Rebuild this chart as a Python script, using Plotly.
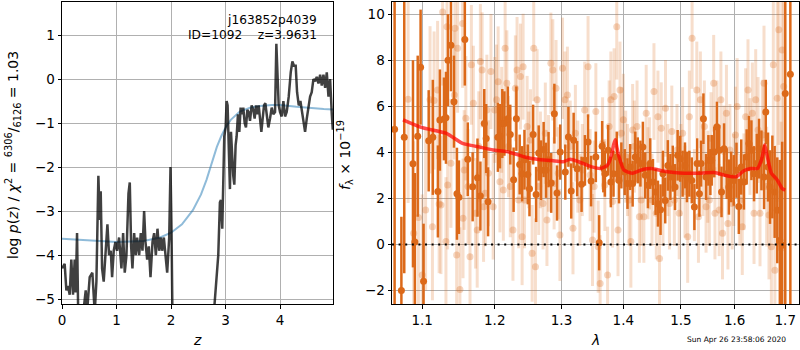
import plotly.graph_objects as go

# ---------------- left panel: log p(z) ----------------
z_pz = [0.000, 0.049, 0.080, 0.110, 0.141, 0.171, 0.202, 0.233, 0.251, 0.276,
        0.300, 0.374, 0.435, 0.459, 0.508, 0.557, 0.600, 0.631, 0.667, 0.692,
        0.710, 0.735, 0.765, 0.802, 0.833, 0.863, 0.894, 0.919, 0.949, 0.980,
        1.010, 1.047, 1.090, 1.121, 1.151, 1.182, 1.219, 1.243, 1.268, 1.292,
        1.323, 1.353, 1.378, 1.415, 1.445, 1.476, 1.506, 1.531, 1.562, 1.592,
        1.623, 1.660, 1.690, 1.721, 1.751, 1.782, 1.813, 1.837, 1.868, 1.898,
        1.929, 1.966, 1.990, 2.009, 2.027, 2.100, 2.529, 2.743, 2.805, 2.835,
        2.866, 2.896, 2.915, 2.939, 2.958, 2.976, 3.001, 3.019, 3.037, 3.056,
        3.080, 3.099, 3.123, 3.141, 3.160, 3.184, 3.203, 3.227, 3.252, 3.276,
        3.301, 3.325, 3.350, 3.374, 3.399, 3.423, 3.448, 3.478, 3.509, 3.533,
        3.558, 3.582, 3.607, 3.631, 3.656, 3.680, 3.705, 3.729, 3.754, 3.784,
        3.815, 3.846, 3.876, 3.907, 3.931, 3.950, 3.974, 3.999, 4.029, 4.060,
        4.091, 4.121, 4.158, 4.195, 4.225, 4.256, 4.286, 4.311, 4.342, 4.372,
        4.403, 4.427, 4.458, 4.489, 4.519, 4.550, 4.580, 4.611, 4.642, 4.672,
        4.703, 4.734, 4.764, 4.795, 4.826, 4.856, 4.887, 4.917, 4.948, 4.966]
logp = [-4.3, -4.2, -4.8, -4.7, -4.9, -4.1, -4.9, -4.1, -4.85, -3.5,
        -5.6, -5.5, -4.8, -5.3, -4.5, -4.4, -5.3, -4.6, -2.2, -3.2,
        -2.55, -4.3, -4.6, -3.8, -3.3, -4.0, -3.9, -4.5, -3.9, -3.7,
        -3.9, -3.6, -4.3, -3.5, -4.4, -4.0, -2.6, -2.35, -3.8, -4.3,
        -3.5, -4.0, -3.6, -4.0, -3.5, -3.9, -3.0, -3.7, -4.1, -3.8,
        -4.5, -3.7, -3.5, -4.0, -3.4, -3.9, -3.6, -3.9, -3.6, -4.0,
        -4.4, -3.6, -2.0, -3.5, -5.6, -8.0, -8.0, -6.0, -5.0, -4.4,
        -4.0, -2.8, -2.75, -3.4, -2.0, -1.3, -1.1, -0.5, -0.6, -1.8,
        -2.5, -1.2, -2.0, -2.2, -2.4, -1.5, -1.3, -0.8, -1.2, -0.65,
        -0.8, -0.65, -1.0, -1.1, -0.7, -0.75, -0.95, -0.6, -0.7, -0.9,
        -0.6, -0.8, -0.6, -1.0, -1.2, -0.9, -0.6, -0.55, -0.75, -1.1,
        -0.9, -0.65, -0.8, -0.75, 0.8, 0.0, -0.6, -0.75, -0.85, -0.5,
        -0.85, -0.75, -0.4, 0.15, 0.4, 0.3, 0.3, -0.3, -0.6, -0.5,
        -0.8, -1.0, -1.2, -0.9, -0.6, -0.4, -0.3, 0.0, -0.05, 0.05,
        -0.1, 0.1, -0.15, 0.1, -0.2, 0.15, -0.4, 0.0, -0.8, -1.15]

z_prior = [0.0, 0.5, 1.0, 1.5, 1.8, 2.0, 2.2, 2.4, 2.55, 2.65, 2.75, 2.84,
           2.92, 3.0, 3.1, 3.26, 3.45, 3.63, 3.85, 4.0, 4.3, 4.55, 4.8, 4.97]
logp_prior = [-3.63, -3.67, -3.70, -3.68, -3.60, -3.49, -3.30, -2.98, -2.62,
              -2.29, -1.90, -1.54, -1.30, -1.10, -0.92, -0.74, -0.65, -0.61,
              -0.59, -0.59, -0.63, -0.66, -0.68, -0.69]

# ---------------- right panel: spectrum ----------------
dark_lam = [1.0642, 1.0729, 1.0766, 1.0879, 1.0904, 1.0941, 1.0979, 1.1018, 1.1086, 1.1141,
            1.1209, 1.1236, 1.1291, 1.1318, 1.1345, 1.1386, 1.1427, 1.1468, 1.1495, 1.1577,
            1.1618, 1.1686, 1.1754, 1.1795, 1.1850, 1.1877, 1.1904, 1.2045, 1.2075, 1.2109,
            1.2139, 1.2190, 1.2225, 1.2274, 1.2315, 1.2364, 1.2400, 1.2435, 1.2484, 1.2510,
            1.2565, 1.2610, 1.2649, 1.2685, 1.2724, 1.2760, 1.2799, 1.2840, 1.2889, 1.2930,
            1.2979, 1.3059, 1.3108, 1.3152, 1.3190, 1.3246, 1.3316, 1.3370, 1.3420, 1.3469,
            1.3546, 1.3600, 1.3649, 1.3668, 1.3693, 1.3748, 1.3792, 1.3836, 1.3890, 1.3928,
            1.3967, 1.4023, 1.4070, 1.4115, 1.4157, 1.4202, 1.4244, 1.4290, 1.4332, 1.4372,
            1.4419, 1.4459, 1.4506, 1.4552, 1.4593, 1.4639, 1.4681, 1.4721, 1.4768, 1.4813,
            1.4855, 1.4895, 1.4942, 1.4988, 1.5031, 1.5074, 1.5110, 1.5153, 1.5197, 1.5245,
            1.5295, 1.5337, 1.5368, 1.5411, 1.5460, 1.5503, 1.5540, 1.5565, 1.5613, 1.5663,
            1.5705, 1.5749, 1.5797, 1.5847, 1.5889, 1.5933, 1.5982, 1.6034, 1.6079, 1.6126,
            1.6178, 1.6231, 1.6276, 1.6324, 1.6375, 1.6429, 1.6474, 1.6521, 1.6573, 1.6607,
            1.6652, 1.6692, 1.6739, 1.6785, 1.6838, 1.6890, 1.6937, 1.7000, 1.7104]
dark_flux = [5.0, -2.0, 4.65, 3.5, 0.1, 4.7, 7.7, -1.6, 4.5, 4.65,
             2.3, 5.4, 5.45, 5.5, 8.0, 8.65, 6.2, 2.2, 2.05, 8.9,
             3.7, 2.5, 2.9, 2.1, 5.25, 4.6, 1.85, 4.65, 4.70, 5.25,
             5.25, 5.46, 4.77, 2.81, 5.46, 3.47, 3.07, 3.68, 3.04, 2.42,
             4.77, 2.17, 3.97, 3.22, 4.12, 3.22, 3.68, 2.67, 5.68, 2.23,
             4.01, 3.14, 4.67, 2.32, 4.52, 3.29, 2.61, 3.65, 4.45, 2.75,
             3.80, 0.07, 4.26, 3.36, 3.07, 4.09, 2.71, 3.07, 3.80, 2.78,
             3.43, 3.14, 2.64, 3.36, 2.64, 3.80, 3.65, 3.51, 4.23, 3.00,
             2.57, 3.51, 2.71, 2.28, 1.77, 1.51, 3.07, 1.91, 3.43, 2.93,
             3.29, 2.49, 3.87, 3.72, 3.07, 3.43, 2.93, 3.07, 2.78, 1.62,
             3.51, 2.20, 3.51, 5.46, 2.93, 3.65, 3.14, 3.65, 4.01, 5.10,
             4.09, 2.28, 4.16, 3.07, 2.49, 2.93, 2.78, 3.22, 1.65, 3.36,
             2.71, 3.80, 4.38, 4.09, 3.07, 3.51, 4.16, 3.65, 2.93, 5.75,
             3.36, 2.49, 2.93, 2.28, 1.48, 0.17, -0.04, 6.55, 7.39]
dark_err = [30, 3.2, 5.9, 4.5, 3.0, 3.5, 2.5, 2.5, 2.2, 2.5,
            2.0, 2.2, 1.8, 2.0, 2.0, 2.0, 2.0, 2.0, 1.6, 2.0,
            1.6, 1.5, 1.7, 1.5, 1.5, 1.5, 1.5, 1.5, 1.4, 1.5,
            1.4, 1.4, 1.3, 1.4, 1.4, 1.3, 1.2, 1.3, 1.3, 1.2,
            1.3, 1.2, 1.2, 1.3, 1.2, 1.2, 1.2, 1.3, 1.3, 1.2,
            1.2, 1.2, 1.3, 1.2, 1.2, 1.2, 1.2, 1.1, 1.2, 1.1,
            1.1, 1.2, 1.1, 1.1, 1.0, 1.1, 1.1, 1.0, 1.1, 1.0,
            1.0, 1.0, 1.1, 1.0, 1.0, 1.1, 1.0, 1.0, 1.1, 1.0,
            1.0, 1.1, 1.0, 1.0, 1.0, 1.1, 1.0, 1.0, 1.1, 1.0,
            1.0, 1.0, 1.1, 1.0, 1.0, 1.0, 1.1, 1.0, 1.0, 1.0,
            1.1, 1.0, 1.0, 1.1, 1.0, 1.1, 1.0, 1.1, 1.1, 1.1,
            1.1, 1.1, 1.1, 1.1, 1.2, 1.1, 1.1, 1.2, 1.2, 1.2,
            1.2, 1.2, 1.2, 1.3, 1.2, 1.3, 1.3, 1.3, 1.4, 1.4,
            1.5, 1.6, 1.8, 2.0, 2.3, 3.5, 4.5, 30, 30]

light_lam = [1.0816, 1.0888, 1.0950, 1.1000, 1.1045, 1.1104, 1.1136, 1.1158, 1.1205, 1.1226,
             1.1250, 1.1273, 1.1318, 1.1332, 1.1341, 1.1386, 1.1431, 1.1441, 1.1464, 1.1477,
             1.1509, 1.1546, 1.1552, 1.1568, 1.1591, 1.1622, 1.1649, 1.1668, 1.1696, 1.1727,
             1.1750, 1.1772, 1.1795, 1.1819, 1.1840, 1.1864, 1.1887, 1.1909, 1.1945, 1.1977,
             1.2000, 1.2025, 1.2049, 1.2075, 1.2100, 1.2124, 1.2150, 1.2175, 1.2199, 1.2225,
             1.2265, 1.2300, 1.2325, 1.2349, 1.2375, 1.2400, 1.2415, 1.2435, 1.2475, 1.2499,
             1.2525, 1.2550, 1.2574, 1.2600, 1.2625, 1.2649, 1.2675, 1.2715, 1.2750, 1.2775,
             1.2799, 1.2835, 1.2865, 1.2885, 1.2915, 1.2949, 1.2975, 1.3016, 1.3054, 1.3092,
             1.3136, 1.3180, 1.3218, 1.3256, 1.3289, 1.3328, 1.3366, 1.3420, 1.3453, 1.3492,
             1.3518, 1.3546, 1.3584, 1.3616, 1.3656, 1.3693, 1.3738, 1.3764, 1.3792, 1.3820,
             1.3846, 1.3890, 1.3911, 1.3944, 1.3967, 1.4000, 1.4040, 1.4070, 1.4098, 1.4127,
             1.4157, 1.4185, 1.4232, 1.4272, 1.4302, 1.4349, 1.4389, 1.4419, 1.4447, 1.4489,
             1.4524, 1.4564, 1.4593, 1.4621, 1.4651, 1.4681, 1.4726, 1.4768, 1.4796, 1.4838,
             1.4883, 1.4930, 1.4970, 1.5000, 1.5031, 1.5074, 1.5123, 1.5153, 1.5203, 1.5245,
             1.5289, 1.5319, 1.5355, 1.5400, 1.5429, 1.5460, 1.5492, 1.5521, 1.5552, 1.5602,
             1.5626, 1.5663, 1.5705, 1.5737, 1.5768, 1.5797, 1.5842, 1.5871, 1.5908, 1.5952,
             1.5982, 1.6014, 1.6047, 1.6099, 1.6146, 1.6178, 1.6211, 1.6257, 1.6296, 1.6343,
             1.6375, 1.6408, 1.6454, 1.6493, 1.6540, 1.6572, 1.6626, 1.6671, 1.6719, 1.6758,
             1.6790, 1.6837, 1.6869, 1.6916, 1.6936, 1.6968]
light_flux = [6.3, 0.48, 1.17, -1.33, 1.49, 6.28, 0.77, 6.25, 6.71, 1.75,
              1.71, 10.1, 0.12, 9.46, 2.58, 3.52, 6.49, 9.39, -0.46, 8.52,
              -1.96, 9.6, 1.13, 3.23, 5.48, 2.51, -0.54, 7.8, 6.13, 1.35,
              0.62, 4.25, 7.94, 7.58, 1.64, 2.22, 5.84, 3.09, 7.51, 1.64,
              5.84, 6.28, 7.07, 2.72, 5.41, 2.36, 8.52, 7.0, 4.25, 2.51,
              0.62, 6.78, 7.58, 1.93, 7.29, 0.33, 7.72, 1.93, 5.12, 3.67,
              4.54, -0.39, 8.52, -0.97, 6.28, 2.51, 3.67, 1.78, 4.83, 1.06,
              3.52, 7.87, 7.58, 2.65, 6.78, 3.09, 0.41, 7.65, 6.28, 6.49,
              4.25, 0.70, 4.83, 3.38, 1.93, 3.23, 5.84, 7.72, 3.01, 0.19,
              2.51, 5.77, -0.10, -1.70, 4.39, 2.58, -1.33, 5.12, 6.28, 1.86,
              6.42, 9.46, 0.62, 6.71, 4.83, 5.41, 3.81, 3.23, 1.93, 0.12,
              4.97, 4.25, 5.12, 1.20, 1.93, 1.20, 5.70, 3.09, 3.52, 1.93,
              6.64, 1.35, 5.55, -0.61, 5.04, 1.93, 5.91, 3.23, 1.78, 4.90,
              1.93, 4.10, 1.35, 3.23, 4.83, 2.29, 0.33, 5.55, 8.96, 2.14,
              6.71, 1.20, 6.28, 3.23, 5.12, 1.64, 2.94, 1.93, 4.61, 7.00,
              1.35, 5.12, 1.49, 6.28, 0.48, 4.03, 5.70, 0.91, 4.10, 1.78,
              2.80, 4.75, 5.99, 1.93, 0.77, 2.72, 5.55, 6.71, 4.25, 5.70,
              1.35, 6.28, 4.97, 1.35, 4.75, 7.00, 2.51, 1.28, -0.10, 7.80,
              -1.12, 6.35, 9.32, -0.17, 8.45, 6.86]
light_err = [4.5, 4.0, 3.8, 3.5, 3.5, 3.2, 3.2, 3.0, 3.0, 3.0,
             3.0, 3.2, 2.8, 3.0, 2.8, 2.8, 2.8, 3.0, 2.8, 2.8,
             2.7, 2.8, 2.6, 2.6, 2.7, 2.5, 2.6, 2.6, 2.5, 2.4,
             2.5, 2.4, 2.5, 2.5, 2.4, 2.3, 2.4, 2.3, 2.5, 2.3,
             2.3, 2.4, 2.4, 2.2, 2.3, 2.2, 2.4, 2.3, 2.2, 2.2,
             2.2, 2.3, 2.3, 2.1, 2.3, 2.1, 2.3, 2.1, 2.2, 2.1,
             2.2, 2.1, 2.3, 2.1, 2.2, 2.1, 2.1, 2.0, 2.2, 2.0,
             2.1, 2.2, 2.2, 2.0, 2.1, 2.0, 2.0, 2.2, 2.1, 2.1,
             2.0, 2.0, 2.1, 2.0, 2.0, 2.0, 2.1, 2.2, 2.0, 2.0,
             2.0, 2.1, 2.0, 2.1, 2.0, 2.0, 2.1, 2.0, 2.1, 2.0,
             2.1, 2.3, 2.0, 2.1, 2.0, 2.0, 2.0, 2.0, 2.0, 2.0,
             2.0, 2.0, 2.0, 2.0, 2.0, 2.0, 2.1, 2.0, 2.0, 2.0,
             2.1, 2.0, 2.0, 2.0, 2.0, 2.0, 2.1, 2.0, 2.0, 2.0,
             2.0, 2.0, 2.0, 2.0, 2.0, 2.0, 2.0, 2.0, 2.2, 2.0,
             2.1, 2.0, 2.1, 2.0, 2.0, 2.0, 2.0, 2.0, 2.0, 2.1,
             2.0, 2.0, 2.0, 2.1, 2.0, 2.0, 2.1, 2.0, 2.0, 2.0,
             2.0, 2.1, 2.1, 2.0, 2.1, 2.1, 2.1, 2.2, 2.1, 2.2,
             2.2, 2.2, 2.3, 2.3, 2.4, 2.5, 2.6, 2.8, 3.2, 3.5,
             4.0, 4.5, 5.0, 5.5, 6.0, 7.0]

model_lam = [1.075, 1.100, 1.1318, 1.1546, 1.175, 1.1977, 1.2175, 1.2425, 1.2625, 1.285,
             1.3027, 1.3136, 1.3272, 1.3464, 1.3628, 1.3738, 1.3800, 1.3840, 1.3866, 1.3890,
             1.3928, 1.4010, 1.4157, 1.4332, 1.4476, 1.4651, 1.4883, 1.5061, 1.5307, 1.5613,
             1.5797, 1.5952, 1.6034, 1.6178, 1.6310, 1.6442, 1.6521, 1.6560, 1.6586, 1.6615,
             1.6652, 1.6719, 1.6837, 1.6936, 1.7000]
model_flux = [5.41, 5.07, 4.83, 4.39, 4.25, 4.10, 4.03, 3.81, 3.70, 3.64,
              3.59, 3.70, 3.59, 3.38, 3.30, 3.45, 3.85, 4.35, 4.55, 4.25,
              3.81, 3.23, 3.09, 3.26, 3.30, 3.20, 3.12, 3.09, 3.09, 3.12,
              3.01, 2.94, 2.94, 3.20, 3.30, 3.30, 3.67, 4.05, 4.32, 4.05,
              3.67, 3.09, 2.80, 2.43, 2.36]

lam_ticks = [1.1, 1.2, 1.3, 1.4, 1.5, 1.6, 1.7]
lam_ticktext = ["1.1", "1.2", "1.3", "1.4", "1.5", "1.6", "1.7"]

# ---------------- styling ----------------
FONT = "DejaVu Sans"
ORANGE = "rgb(220,105,25)"
ORANGE_LIGHT = "rgba(220,105,25,0.22)"
ORANGE_LIGHT_M = "rgba(220,105,25,0.28)"

fig = go.Figure()

fig.add_trace(go.Scatter(x=z_prior, y=logp_prior, mode="lines",
                         line=dict(color="rgba(31,119,180,0.5)", width=2),
                         xaxis="x", yaxis="y", showlegend=False, hoverinfo="skip"))
fig.add_trace(go.Scatter(x=z_pz, y=logp, mode="lines",
                         line=dict(color="rgba(0,0,0,0.75)", width=2.5),
                         xaxis="x", yaxis="y", showlegend=False, hoverinfo="skip"))

fig.add_trace(go.Scatter(x=light_lam, y=light_flux, mode="markers",
                         marker=dict(color=ORANGE_LIGHT_M, size=7, line=dict(width=0)),
                         error_y=dict(type="data", array=light_err, color=ORANGE_LIGHT,
                                      thickness=3, width=0),
                         xaxis="x2", yaxis="y2", showlegend=False, hoverinfo="skip"))
fig.add_trace(go.Scatter(x=dark_lam, y=dark_flux, mode="markers",
                         marker=dict(color=ORANGE, size=7, line=dict(width=0)),
                         error_y=dict(type="data", array=dark_err, color=ORANGE,
                                      thickness=2.5, width=0),
                         xaxis="x2", yaxis="y2", showlegend=False, hoverinfo="skip"))
fig.add_trace(go.Scatter(x=model_lam, y=model_flux, mode="lines",
                         line=dict(color="rgba(255,0,0,0.7)", width=3.5,
                                   shape="spline", smoothing=0.6),
                         xaxis="x2", yaxis="y2", showlegend=False, hoverinfo="skip"))

axis_common = dict(showline=True, linecolor="black", linewidth=1, mirror=True,
                   ticks="outside", ticklen=3.5, tickcolor="black", tickwidth=1,
                   showgrid=True, gridcolor="#b0b0b0", gridwidth=1, zeroline=False,
                   tickfont=dict(family=FONT, size=13.5, color="black"))

L = 62
W = 737
H = 302
fig.update_layout(
    width=800, height=350,
    margin=dict(l=L, r=800 - L - W, t=2, b=350 - 2 - H),
    paper_bgcolor="white", plot_bgcolor="white",
    font=dict(family=FONT, size=13.5, color="black"),
    xaxis=dict(domain=[0, 271 / W], range=[0, 4.97], tickvals=[0, 1, 2, 3, 4],
               anchor="y", **axis_common),
    yaxis=dict(domain=[0, 1], range=[-5.11, 1.75], tickvals=[-5, -4, -3, -2, -1, 0, 1],
               anchor="x", **axis_common),
    xaxis2=dict(domain=[330 / W, 1], type="log", range=[0.02567, 0.23760],
                tickvals=lam_ticks, ticktext=lam_ticktext, anchor="y2", **axis_common),
    yaxis2=dict(domain=[0, 1], range=[-2.59, 10.53], tickvals=[-2, 0, 2, 4, 6, 8, 10],
                anchor="x2", **axis_common),
)

fig.add_shape(type="line", xref="x2 domain", yref="y2", x0=0, x1=1, y0=0, y1=0,
              line=dict(color="black", width=2, dash="2px,4.6px"), layer="above")


def px(xp):
    return (xp - L) / W


def py(yp):
    return (304 - yp) / H


ann = [
    dict(text="j163852p4039", x=px(318.5), y=py(20), xanchor="right", yanchor="middle", size=12.2),
    dict(text="ID=1092\u00a0\u00a0\u00a0\u00a0z=3.9631", x=px(318.5), y=py(35), xanchor="right",
         yanchor="middle", size=12.2),
    dict(text="<i>z</i>", x=px(197), y=py(340), xanchor="center", yanchor="middle", size=14),
    dict(text="<i>λ</i>", x=px(595), y=py(340), xanchor="center", yanchor="middle", size=14),
    dict(text="Sun Apr 26 23:58:06 2020", x=px(788), y=py(339.5), xanchor="right",
         yanchor="middle", size=7.5),
]
for a in ann:
    fig.add_annotation(text=a["text"], xref="paper", yref="paper", x=a["x"], y=a["y"],
                       xanchor=a["xanchor"], yanchor=a["yanchor"], showarrow=False,
                       font=dict(family=FONT, size=a["size"], color="black"))

fig.add_annotation(text="log <i>p</i>(<i>z</i>) / <i>χ</i><sup>2</sup> = "
                        "<sup>6306</sup>/<sub>6126</sub> = 1.03",
                   xref="paper", yref="paper", x=px(13), y=py(155), textangle=-90,
                   xanchor="center", yanchor="middle", showarrow=False,
                   font=dict(family=FONT, size=14, color="black"))
fig.add_annotation(text="<i>f</i><sub>λ</sub> × 10<sup>−19</sup>",
                   xref="paper", yref="paper", x=px(345), y=py(155), textangle=-90,
                   xanchor="center", yanchor="middle", showarrow=False,
                   font=dict(family=FONT, size=14, color="black"))

fig.write_html("out.html")
